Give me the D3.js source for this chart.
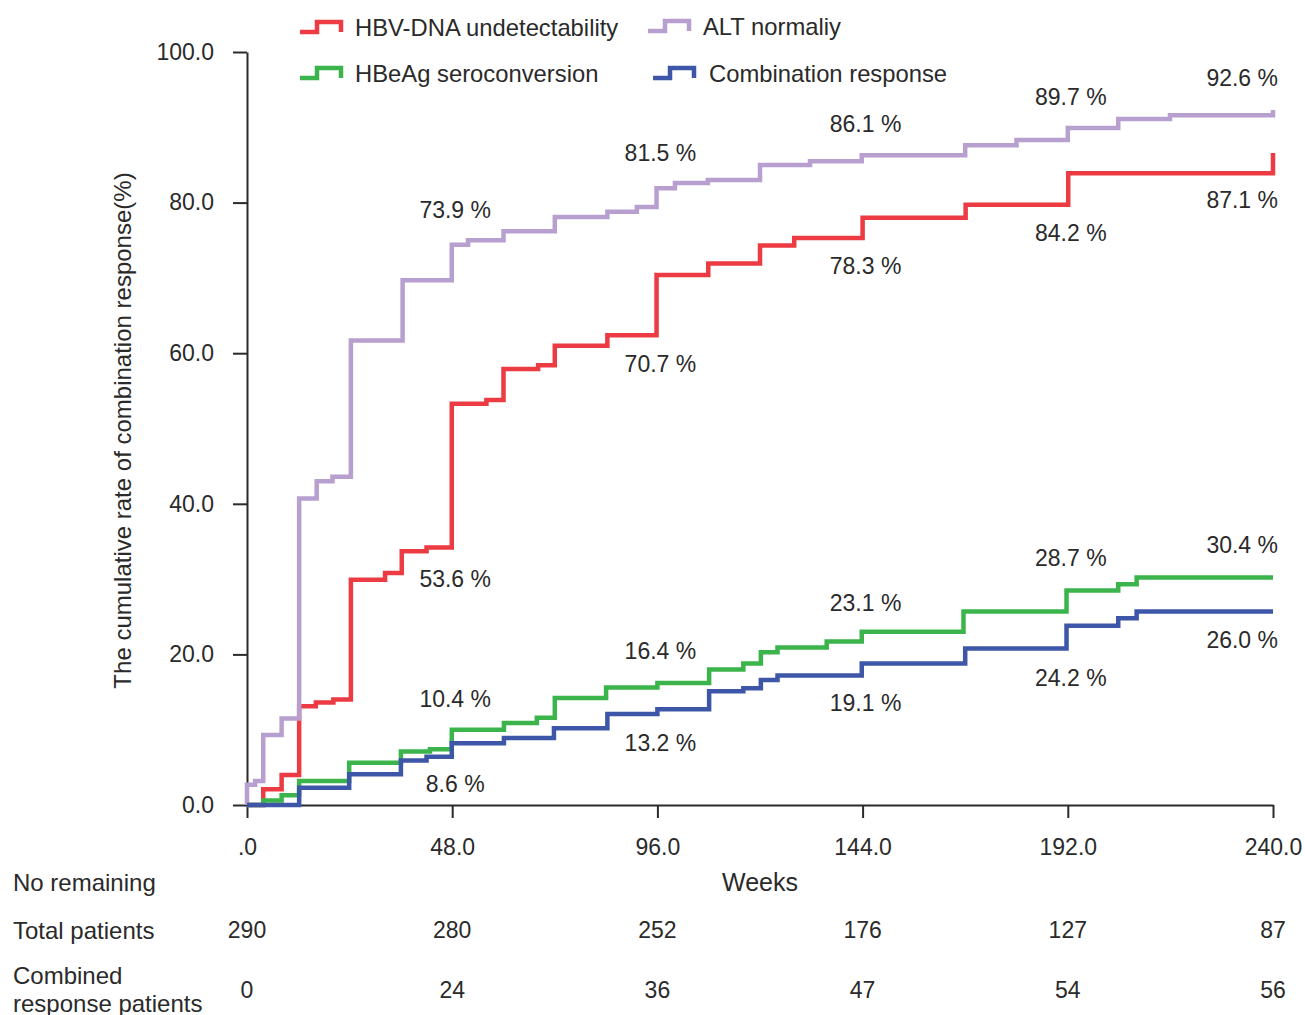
<!DOCTYPE html>
<html>
<head>
<meta charset="utf-8">
<script src="https://cdn.jsdelivr.net/npm/d3@7"></script>
<style>
  html, body { margin: 0; padding: 0; background: #fff; }
  svg text { font-family: "Liberation Sans", Arial, Helvetica, sans-serif; fill: #2a2a2a; }
</style>
</head>
<body>
<svg id="chart" width="1305" height="1015"></svg>
<script>
// step curves: [week, cumulative %]
const altNormal = [
  [0, 0], [0, 2.7], [1.9, 3.2], [3.8, 9.3], [8.1, 11.5], [12.2, 40.7], [16.3, 43.0], [20.0, 43.6],
  [24.3, 61.7], [36.4, 69.7], [47.9, 74.4], [51.7, 75.0], [60, 76.2], [72, 78.1], [84.3, 78.8],
  [91.2, 79.4], [95.8, 81.9], [100.1, 82.6], [107.8, 83.0], [120, 85.0], [131.7, 85.5],
  [143.8, 86.3], [168, 87.6], [180, 88.3], [192, 89.9], [203.8, 91.1], [215.9, 91.6], [240, 91.6], [240, 92.3]
];
const hbvDna = [
  [0, 0], [3.8, 2.1], [8.1, 4.0], [12.2, 13.1], [16.1, 13.6], [20.2, 14.0], [24.3, 29.9], [32.3, 30.8],
  [36.2, 33.7], [42, 34.2], [47.9, 53.3], [56, 53.8], [60, 57.9], [68.1, 58.4], [72, 61.0],
  [84.3, 62.4], [95.8, 70.4], [107.9, 71.9], [120, 74.3], [128, 75.3], [144, 78.0], [168.1, 79.7],
  [192.1, 83.9], [240, 83.9], [240, 86.6]
];
const hbeagSero = [
  [0, 0], [3.8, 0.6], [8.1, 1.3], [12.2, 3.2], [23.9, 5.6], [36, 7.1], [42.8, 7.4], [47.9, 10.0],
  [60.1, 10.9], [67.8, 11.6], [72, 14.2], [84, 15.6], [96, 16.2], [108.1, 18.0], [116.1, 18.8],
  [120.2, 20.3], [124.1, 20.9], [135.6, 21.7], [143.8, 23.0], [167.6, 25.7], [191.7, 28.5],
  [203.8, 29.3], [208.1, 30.2], [240, 30.2]
];
const comboResp = [
  [0, 0], [12.2, 2.3], [23.9, 4.1], [36, 5.9], [42, 6.4], [47.9, 8.2], [60.1, 8.9], [71.8, 10.2],
  [84.3, 12.1], [96, 12.7], [108.1, 15.1], [116.1, 15.5], [120.2, 16.6], [124.1, 17.2],
  [143.8, 18.8], [168, 20.8], [191.7, 23.8], [203.8, 24.8], [208.1, 25.7], [240, 25.7]
];

// annotation labels at the 48-week marks: text and the height they sit at (in % units)
const labelWeeks = [48, 96, 144, 192, 240];
const altLabels = ['73.9 %', '81.5 %', '86.1 %', '89.7 %', '92.6 %'];
const altLabelPos = [79.0, 86.6, 90.4, 94.0, 96.5];
const hbvLabels = ['53.6 %', '70.7 %', '78.3 %', '84.2 %', '87.1 %'];
const hbvLabelPos = [30.0, 58.6, 71.6, 76.0, 80.3];
const seroLabels = ['10.4 %', '16.4 %', '23.1 %', '28.7 %', '30.4 %'];
const seroLabelPos = [14.1, 20.5, 26.8, 32.8, 34.5];
const comboLabels = ['8.6 %', '13.2 %', '19.1 %', '24.2 %', '26.0 %'];
const comboLabelPos = [2.8, 8.3, 13.5, 16.9, 21.9];

// axes and the patients-at-risk table
const xTicks = [0, 48, 96, 144, 192, 240];
const yTicks = [0, 20, 40, 60, 80, 100];
const totalPatients = [290, 280, 252, 176, 127, 87];
const combinedPatients = [0, 24, 36, 47, 54, 56];

const series = [
  { name: 'HBV-DNA undetectability', data: hbvDna, color: '#ec3b43', labels: hbvLabels, pos: hbvLabelPos },
  { name: 'ALT normaliy', data: altNormal, color: '#b7a0cf', labels: altLabels, pos: altLabelPos },
  { name: 'HBeAg seroconversion', data: hbeagSero, color: '#3bb54b', labels: seroLabels, pos: seroLabelPos },
  { name: 'Combination response', data: comboResp, color: '#3e56a8', labels: comboLabels, pos: comboLabelPos }
];

const svg = d3.select('#chart');
const fs = 23;

const x = d3.scaleLinear().domain([0, 240]).range([247, 1273]);
const y = d3.scaleLinear().domain([0, 100]).range([805, 52]);

// y axis
const yAxis = svg.append('g')
  .attr('transform', `translate(${x(0)},0)`)
  .call(d3.axisLeft(y).tickValues(yTicks).tickSize(14).tickSizeOuter(0).tickPadding(19)
    .tickFormat(d3.format('.1f')));

// x axis
const xAxis = svg.append('g')
  .attr('transform', `translate(0,${y(0)})`)
  .call(d3.axisBottom(x).tickValues(xTicks).tickSize(13).tickSizeOuter(0).tickPadding(21)
    .tickFormat(d => d === 0 ? '.0' : d.toFixed(1)));

[yAxis, xAxis].forEach(g => {
  g.selectAll('path, line').attr('stroke', '#2a2a2a').attr('stroke-width', 2);
  g.selectAll('text').style('font-size', fs + 'px').attr('fill', '#2a2a2a');
});

// y title
svg.append('text')
  .attr('transform', `translate(122,${(y(0) + y(100)) / 2 + 2}) rotate(-90)`)
  .attr('text-anchor', 'middle')
  .attr('dominant-baseline', 'central')
  .style('font-size', '24px')
  .text('The cumulative rate of combination response(%)');

// step lines
const line = d3.line()
  .x(d => x(d[0]))
  .y(d => y(d[1]))
  .curve(d3.curveStepAfter);

svg.append('g').selectAll('path')
  .data(series)
  .enter()
  .append('path')
  .attr('d', d => line(d.data))
  .attr('fill', 'none')
  .attr('stroke', d => d.color)
  .attr('stroke-width', 4.5)
  .attr('stroke-linejoin', 'miter');

// percentage labels
series.forEach(s => {
  svg.append('g').selectAll('text')
    .data(s.labels)
    .enter()
    .append('text')
    .attr('x', (d, i) => labelWeeks[i] === 240 ? x(240) + 5 : x(labelWeeks[i]) + 3)
    .attr('y', (d, i) => y(s.pos[i]))
    .attr('text-anchor', (d, i) => labelWeeks[i] === 240 ? 'end' : 'middle')
    .attr('dominant-baseline', 'central')
    .style('font-size', fs + 'px')
    .text(d => d);
});

// legend
const legendItems = [
  { s: series[0], x: 300, y: 27, tx: 355 },
  { s: series[1], x: 648, y: 26, tx: 703 },
  { s: series[2], x: 300, y: 73, tx: 355 },
  { s: series[3], x: 653, y: 73, tx: 709 }
];
const legend = svg.append('g');
legendItems.forEach(it => {
  legend.append('path')
    .attr('d', `M${it.x},${it.y + 5} h17 v-10 h24 v10`)
    .attr('fill', 'none')
    .attr('stroke', it.s.color)
    .attr('stroke-width', 4.5);
  legend.append('text')
    .attr('x', it.tx)
    .attr('y', it.y)
    .attr('dominant-baseline', 'central')
    .style('font-size', '23.8px')
    .text(it.s.name);
});

// x title and number-at-risk table
svg.append('text')
  .attr('x', 760).attr('y', 882)
  .attr('text-anchor', 'middle').attr('dominant-baseline', 'central')
  .style('font-size', '25px')
  .text('Weeks');

const rowLabels = [
  { t: 'No remaining', y: 882 },
  { t: 'Total patients', y: 930 },
  { t: 'Combined', y: 975 },
  { t: 'response patients', y: 1003 }
];
svg.append('g').selectAll('text')
  .data(rowLabels)
  .enter()
  .append('text')
  .attr('x', 13)
  .attr('y', d => d.y)
  .attr('dominant-baseline', 'central')
  .style('font-size', '24px')
  .text(d => d.t);

[[totalPatients, 930], [combinedPatients, 990]].forEach(([vals, yy]) => {
  svg.append('g').selectAll('text')
    .data(vals)
    .enter()
    .append('text')
    .attr('x', (d, i) => x(xTicks[i]))
    .attr('y', yy)
    .attr('text-anchor', 'middle')
    .attr('dominant-baseline', 'central')
    .style('font-size', fs + 'px')
    .text(d => d);
});
</script>
</body>
</html>
